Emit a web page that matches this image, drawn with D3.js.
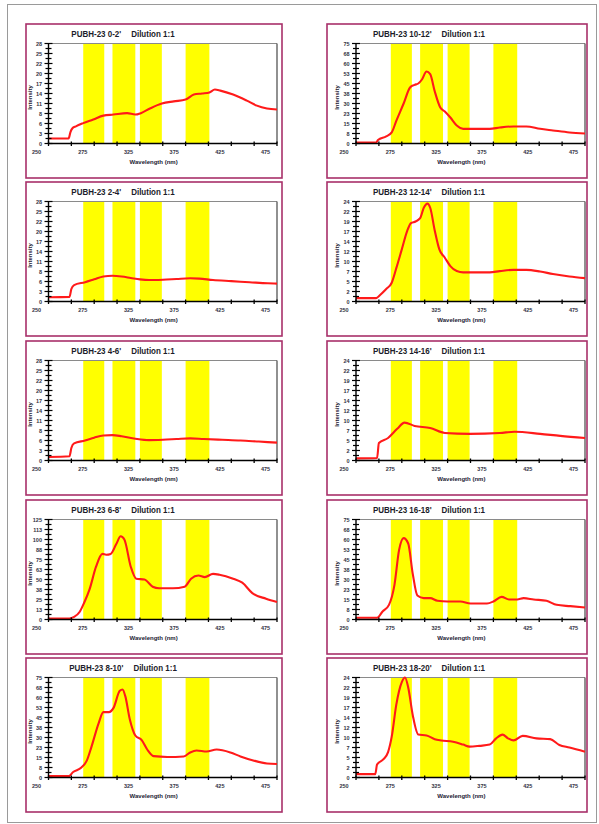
<!DOCTYPE html>
<html><head><meta charset="utf-8">
<script src="https://cdn.jsdelivr.net/npm/d3@7"></script>
<style>
body{margin:0;background:#fff}
text{font-family:"Liberation Sans",Arial,sans-serif}
</style>
</head><body>
<svg id="c" width="599" height="824"></svg>
<script>
// ---- sample labels / panel titles ----
const sampleLabels = ["PUBH-23 0-2'", "PUBH-23 10-12'", "PUBH-23 2-4'", "PUBH-23 12-14'",
  "PUBH-23 4-6'", "PUBH-23 14-16'", "PUBH-23 6-8'", "PUBH-23 16-18'", "PUBH-23 8-10'", "PUBH-23 18-20'"];
const dilution = "Dilution 1:1";
const yMaxes = [28, 75, 28, 24, 28, 24, 125, 75, 75, 24];

// ---- x axis ----
const xDomain = [250, 500];
const xTickValues = [250, 275, 300, 325, 350, 375, 400, 425, 450, 475, 500];
const xLabelValues = [275, 325, 375, 425, 475];
const xOriginLabel = "250";
// channel windows (nm)
const bandStarts = [288, 320, 350, 400];
const bandEnds   = [311, 345, 374, 426];

// ---- emission spectra (wavelength nm / intensity) ----
const nm_0_2  = [250,272,274,276,280,288,299,310,321,336,345,351,361,374,387,400,409,418,426,432,438,452,467,478,489,500];
const int_0_2 = [1.4,1.4,3.2,4.2,4.8,5.7,6.7,7.8,8.1,8.5,8.1,8.5,9.8,11.2,11.8,12.3,13.7,14.0,14.3,15.1,14.8,13.7,12.0,10.6,9.8,9.5];

const nm_2_4  = [250,273,275,278,290,300,310,320,330,340,350,360,375,390,405,415,430,450,470,490,500];
const int_2_4 = [1.2,1.3,3.5,4.6,5.4,6.2,7.0,7.2,7.0,6.6,6.2,6.0,6.1,6.3,6.5,6.4,6.0,5.7,5.4,5.1,5.0];

const nm_4_6  = [250,273,275,278,290,300,310,320,330,345,360,375,390,405,420,440,460,480,500];
const int_4_6 = [1.0,1.2,3.5,4.8,5.6,6.4,7.0,7.1,6.8,6.1,5.7,5.8,6.0,6.2,6.0,5.8,5.6,5.3,5.0];

const nm_6_8  = [250,273,278,284,289,295,302,309,313,318,324,329,333,340,346,355,364,371,386,399,406,414,421,430,437,452,462,473,488,500];
const int_6_8 = [1.2,1.2,3.2,9.4,21,38,66,82,81,82,94,104,100,66,51,50,41,39,39,41,51,55,53,57,56,51,46,33,26,22];

const nm_8_10  = [250,272,277,286,292,297,305,310,316,321,328,331,334,339,345,352,358,365,380,398,405,412,423,434,449,460,474,489,500];
const int_8_10 = [1,1,4.1,7.5,12.8,23,41,49,49,52,65,66,61,43.5,31.5,28,21,16,15.4,15.8,18.8,20.3,19.5,21,18.8,15.8,12.8,10.5,10.1];

const nm_10_12  = [250,272,274,283,289,294,302,309,314,318,322,327,331,336,342,347,353,360,367,382,396,407,422,436,451,465,483,500];
const int_10_12 = [0.8,0.8,2.6,5.3,8.3,17,30,42,44,45,48,54,52,39,27,24,19.5,13.5,11,11,11,12,12.8,12.8,11,9.8,8.3,7.5];

const nm_12_14  = [250,272,276,283,289,294,300,306,310,315,320,324,328,331,336,341,347,353,360,367,382,396,407,422,436,451,465,483,500];
const int_12_14 = [0.8,0.8,1.5,3,4.5,8,12.5,17,18.8,19.2,20,22.5,23.5,22.5,17,12.5,10.5,8.5,7.3,7,7,7,7.3,7.6,7.6,7.2,6.6,6,5.6];

const nm_14_16  = [250,273,275,285,295,303,314,331,347,374,407,423,451,473,500];
const int_14_16 = [0.5,0.6,4.2,5.4,7.6,9.1,8.3,7.8,6.6,6.4,6.6,6.9,6.4,5.9,5.4];

const nm_16_18  = [250,273,279,286,292,297,302,307,312,317,324,331,339,350,364,375,393,400,409,417,426,433,444,458,469,484,500];
const int_16_18 = [1.3,1.3,6,11,26,52,61,57,34,18,16,16,14,13.5,13.5,12,12,13.5,17,15,15,16,15,14,11,10,9];

const nm_18_20  = [250,271,273,280,285,289,294,300,303.5,307,312,318,327,336,343,356,367,374,385,396,403,410,416,422,432,447,462,472,483,500];
const int_18_20 = [0.8,0.8,3.1,4.4,6.1,9.8,17.5,22.9,24,21.6,14.9,10.3,10.1,9.2,8.9,8.6,7.9,7.4,7.6,7.9,9.4,10.3,9.4,8.9,10,9.4,9.2,7.8,7.2,6.2];

const spectraNm  = [nm_0_2, nm_10_12, nm_2_4, nm_12_14, nm_4_6, nm_14_16, nm_6_8, nm_16_18, nm_8_10, nm_18_20];
const spectraInt = [int_0_2, int_10_12, int_2_4, int_12_14, int_4_6, int_14_16, int_6_8, int_16_18, int_8_10, int_18_20];

// ---- layout ----
const svg = d3.select("#c");
const colX = [26, 327], colW = [256, 260];
const rowY = [24, 182, 341, 500, 658], panelH = 154;
const plotLeft = [22.5, 29], plotW = [228.5, 229];
const plotTop = 19.5, plotH = 100;
const titleCenter = [97, 102];

// page frame
svg.append("rect").attr("x", 7.5).attr("y", 4.5).attr("width", 589).attr("height", 818)
  .attr("fill", "none").attr("stroke", "#9a9a9a").attr("stroke-width", 1);

// condensed bold text: natural width squeezed to 84%
function narrowText(g, str, x, y, size) {
  const t = g.append("text").attr("x", x).attr("y", y).attr("font-size", size)
    .attr("font-weight", "bold").attr("fill", "#1c1c2a").text(str);
  const w = t.node().getComputedTextLength() * 0.84;
  t.attr("textLength", w).attr("lengthAdjust", "spacingAndGlyphs");
  return {node: t, width: w};
}

sampleLabels.forEach((label, i) => {
  const col = i % 2, row = Math.floor(i / 2);
  const px = colX[col], py = rowY[row];
  const g = svg.append("g").attr("transform", `translate(${px},${py})`);

  g.append("rect").attr("x", 0).attr("y", 0).attr("width", colW[col]).attr("height", panelH)
    .attr("fill", "#fff").attr("stroke", "#a8306a").attr("stroke-width", 1.6);

  const x = d3.scaleLinear().domain(xDomain).range([plotLeft[col], plotLeft[col] + plotW[col]]);
  const y = d3.scaleLinear().domain([0, yMaxes[i]]).range([plotTop + plotH, plotTop]);

  // title: sample name, gap, dilution
  const a = narrowText(g, label, 0, 12.5, 9.5);
  const b = narrowText(g, dilution, 0, 12.5, 9.5);
  const gap = 10;
  const start = titleCenter[col] - (a.width + gap + b.width) / 2;
  a.node.attr("x", start);
  b.node.attr("x", start + a.width + gap);

  // channel bands
  bandStarts.forEach((s, k) => {
    g.append("rect").attr("x", x(s)).attr("y", plotTop)
      .attr("width", x(bandEnds[k]) - x(s)).attr("height", plotH).attr("fill", "#ffff00");
  });

  // plot frame: top and right
  g.append("line").attr("x1", x(250)).attr("x2", x(500)).attr("y1", plotTop).attr("y2", plotTop)
    .attr("stroke", "#8a8a8a").attr("stroke-width", 1);
  g.append("line").attr("x1", x(500)).attr("x2", x(500)).attr("y1", plotTop).attr("y2", plotTop + plotH)
    .attr("stroke", "#555").attr("stroke-width", 1.3);

  // spectrum
  const pts = spectraNm[i].map((w, k) => [w, spectraInt[i][k]]);
  g.append("path").datum(pts)
    .attr("d", d3.line().x(d => x(d[0])).y(d => y(d[1])).curve(d3.curveMonotoneX))
    .attr("fill", "none").attr("stroke", "#ff1a1a").attr("stroke-width", 2.1)
    .attr("stroke-linejoin", "round");

  // y axis with minor ticks
  const yTicks = d3.range(0, 21).map(k => k * yMaxes[i] / 20);
  const yAx = g.append("g").attr("transform", `translate(${x(250)},0)`);
  yAx.append("line").attr("y1", plotTop).attr("y2", plotTop + plotH).attr("stroke", "#000").attr("stroke-width", 1.4);
  yTicks.forEach((t, k) => {
    const major = k % 2 === 0;
    yAx.append("line").attr("x1", major ? -4 : -3).attr("x2", major ? 4 : 3)
      .attr("y1", y(t)).attr("y2", y(t)).attr("stroke", "#000").attr("stroke-width", 1.2);
    if (major) {
      yAx.append("text").attr("x", -6.5).attr("y", y(t) + 2).attr("text-anchor", "end")
        .attr("font-size", 5.5).attr("font-weight", "bold").attr("fill", "#334").text(d3.format(".0f")(t));
    }
  });

  // x axis
  const xAx = g.append("g").attr("transform", `translate(0,${plotTop + plotH})`);
  xAx.append("line").attr("x1", x(250)).attr("x2", x(500)).attr("stroke", "#000").attr("stroke-width", 1.4);
  xTickValues.forEach(t => {
    xAx.append("line").attr("x1", x(t)).attr("x2", x(t)).attr("y1", -2).attr("y2", 2.5)
      .attr("stroke", "#000").attr("stroke-width", 1.3);
  });
  const half = (xTickValues[1] - xTickValues[0]) / 2;
  xLabelValues.forEach(t => {
    xAx.append("text").attr("x", x(t + half)).attr("y", 10.5).attr("text-anchor", "middle")
      .attr("font-size", 5.5).attr("font-weight", "bold").attr("fill", "#334").text(t);
  });
  xAx.append("text").attr("x", x(250) - 12).attr("y", 10.5).attr("text-anchor", "middle")
    .attr("font-size", 5.5).attr("font-weight", "bold").attr("fill", "#334").text(xOriginLabel);

  // axis titles
  g.append("text").attr("x", x(365)).attr("y", plotTop + plotH + 20).attr("text-anchor", "middle")
    .attr("font-size", 6).attr("font-weight", "bold").attr("fill", "#223").text("Wavelength (nm)");
  g.append("text").attr("transform", `translate(${plotLeft[col] - 17},${plotTop + plotH / 2 + 4}) rotate(-90)`)
    .attr("text-anchor", "middle").attr("font-size", 6).attr("font-weight", "bold").attr("fill", "#223")
    .text("Intensity");
});
</script>
</body></html>
